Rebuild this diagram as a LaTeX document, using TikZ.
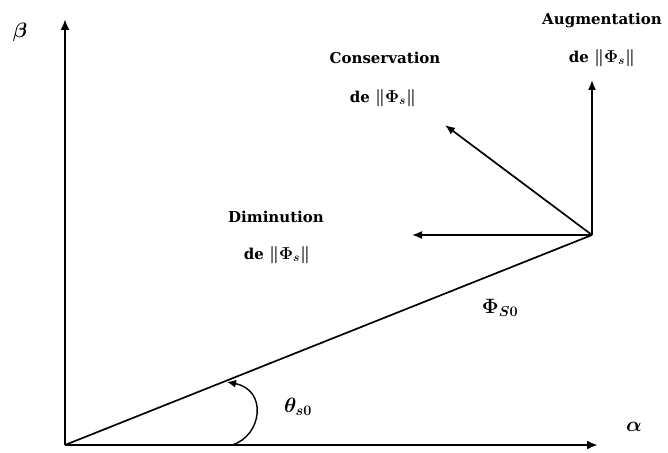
\documentclass[tikz,border=0pt]{standalone}
\usepackage{fontspec}
\setmainfont{DejaVu Serif}
\usetikzlibrary{arrows.meta}
\tikzset{
  axis/.style={line width=2.6pt,-{Latex[length=11pt,width=9pt]}},
  vec/.style={line width=1.7pt,-{Latex[length=10pt,width=8pt]}},
  lab/.style={font=\fontsize{15}{17}\selectfont\bfseries\boldmath,inner sep=0pt},
  mlab/.style={font=\fontsize{21}{23}\selectfont\boldmath,inner sep=0pt}
}
\begin{document}
\begin{tikzpicture}[x=1pt,y=1pt]
\useasboundingbox (0,0) rectangle (668,452);
\coordinate (O) at (65,7);
\coordinate (B) at (65,433);
\coordinate (A) at (598,7);
\coordinate (S) at (592,217);
\coordinate (D) at (412,217);
\coordinate (U) at (592,372);
\coordinate (C) at (445,327);
\coordinate (T0) at (232,7);
\coordinate (T1) at (227,70);
\draw[axis] (O) -- (B);
\draw[axis] (O) -- (A);
\draw[line width=1.7pt] (O) -- (S);
\draw[vec] (S) -- (D);
\draw[vec] (S) -- (U);
\draw[vec] (S) -- (C);
\draw[line width=1.4pt,-{Latex[length=9pt,width=8pt]}] (T0) .. controls (262,16) and (268,62) .. (T1);
\node[mlab] (beta) at (20,420) {$\beta$};
\node[mlab] (alpha) at (634,25) {$\alpha$};
\node[mlab] (theta) at (298,45) {$\theta_{s0}$};
\node[mlab] (phi) at (500,144) {$\Phi_{S0}$};
\node[lab] (cons) at (385,394) {Conservation};
\node[lab] (cons2) at (383,354) {de {\fontsize{17}{19}\selectfont$\|\Phi_s\|$}};
\node[lab] (aug) at (602,432) {Augmentation};
\node[lab] (aug2) at (602,394) {de {\fontsize{17}{19}\selectfont$\|\Phi_s\|$}};
\node[lab] (dim) at (276,235) {Diminution};
\node[lab] (dim2) at (277,197) {de {\fontsize{17}{19}\selectfont$\|\Phi_s\|$}};
\end{tikzpicture}
\end{document}
